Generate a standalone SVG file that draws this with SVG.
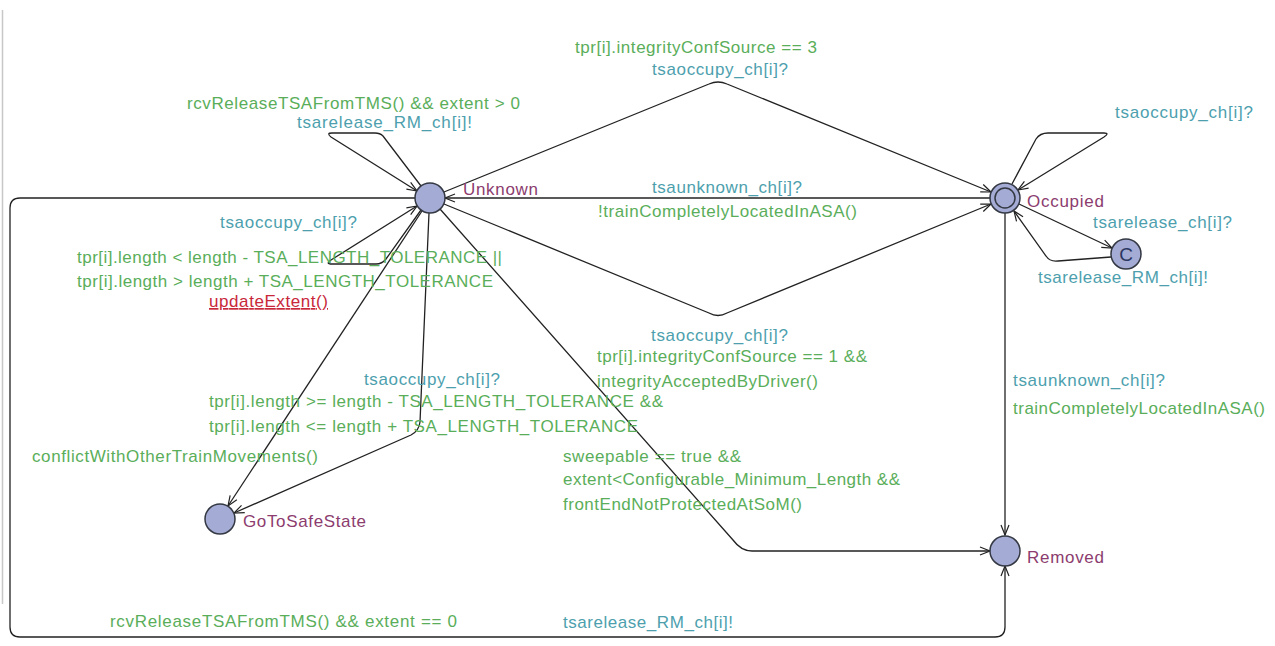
<svg xmlns="http://www.w3.org/2000/svg" width="1275" height="646" viewBox="0 0 1275 646">
<style>
text{font-family:"Liberation Sans",Arial,sans-serif;font-size:17px}
.g{fill:#5aae5a}
.t{fill:#4d9fae}
.p{fill:#8c3c6e}
.r{fill:#c8283a;text-decoration:underline}
.e{fill:none;stroke:#222;stroke-width:1.3}
.n{fill:#a4abd4;stroke:#333842;stroke-width:1.5}
</style>
<defs>
<marker id="arr" viewBox="0 0 12 10" refX="11" refY="5" markerWidth="12" markerHeight="10" markerUnits="userSpaceOnUse" orient="auto">
<path d="M1,1 L11,5 L1,9" fill="none" stroke="#222" stroke-width="1.2"/>
</marker>
</defs>
<rect width="1275" height="646" fill="#fff"/>
<line x1="2.5" y1="10" x2="2.5" y2="604" stroke="#c8c8c8" stroke-width="1.5"/>
<g id="connectors">
<path class="e" d="M421,186 L383,136 Q380,133 375,133 L332,133 Q326,133 331,137 L417,191" marker-end="url(#arr)"/>
<path class="e" d="M444,192 L709,84 Q718,80 727,84 L991,192" marker-end="url(#arr)"/>
<path class="e" d="M990,198 L445,198" marker-end="url(#arr)"/>
<path class="e" d="M444,204 L709,313 Q718,318 727,313 L991,204" marker-end="url(#arr)"/>
<path class="e" d="M1012,184 L1036,139 Q1040,133 1048,133 L1104,133 Q1110,133 1104,137 L1018,190" marker-end="url(#arr)"/>
<path class="e" d="M1019,204 L1112,248" marker-end="url(#arr)"/>
<path class="e" d="M1111,257 L1058,261 Q1050,262 1046,256 L1014,211" marker-end="url(#arr)"/>
<path class="e" d="M1005,213 L1005,535" marker-end="url(#arr)"/>
<path class="e" d="M440,209 L733,540 Q741,551 752,551 L990,551" marker-end="url(#arr)"/>
<path class="e" d="M422,211 L228,506" marker-end="url(#arr)"/>
<path class="e" d="M429,213 L420,422 Q419,431 411,435 L234,513" marker-end="url(#arr)"/>
<path class="e" d="M421,210 L386,259 Q382,264 376,264 L332,264 Q325,264 331,260 L417,206" marker-end="url(#arr)"/>
<path class="e" d="M415,198 L20,198 Q10,198 10,208 L10,627 Q10,637 20,637 L995,637 Q1005,637 1005,627 L1005,566" marker-end="url(#arr)"/>
</g>
<g id="labels">
<text class="g" x="187" y="109" textLength="333" lengthAdjust="spacing">rcvReleaseTSAFromTMS() &amp;&amp; extent &gt; 0</text>
<text class="t" x="297" y="128" textLength="175" lengthAdjust="spacing">tsarelease_RM_ch[i]!</text>
<text class="g" x="575" y="53" textLength="242" lengthAdjust="spacing">tpr[i].integrityConfSource == 3</text>
<text class="t" x="652" y="75" textLength="136" lengthAdjust="spacing">tsaoccupy_ch[i]?</text>
<text class="t" x="652" y="193" textLength="150" lengthAdjust="spacing">tsaunknown_ch[i]?</text>
<text class="g" x="598" y="217" textLength="259" lengthAdjust="spacing">!trainCompletelyLocatedInASA()</text>
<text class="t" x="1115" y="118" textLength="138" lengthAdjust="spacing">tsaoccupy_ch[i]?</text>
<text class="t" x="1093" y="228" textLength="139" lengthAdjust="spacing">tsarelease_ch[i]?</text>
<text class="t" x="1038" y="283" textLength="170" lengthAdjust="spacing">tsarelease_RM_ch[i]!</text>
<text class="t" x="220" y="228" textLength="137" lengthAdjust="spacing">tsaoccupy_ch[i]?</text>
<text class="g" x="77" y="263" textLength="425" lengthAdjust="spacing">tpr[i].length &lt; length - TSA_LENGTH_TOLERANCE ||</text>
<text class="g" x="77" y="287" textLength="416" lengthAdjust="spacing">tpr[i].length &gt; length + TSA_LENGTH_TOLERANCE</text>
<text class="r" x="209" y="307" textLength="119" lengthAdjust="spacing">updateExtent()</text>
<text class="t" x="651" y="341" textLength="137" lengthAdjust="spacing">tsaoccupy_ch[i]?</text>
<text class="g" x="597" y="362" textLength="270" lengthAdjust="spacing">tpr[i].integrityConfSource == 1 &amp;&amp;</text>
<text class="g" x="597" y="387" textLength="221" lengthAdjust="spacing">integrityAcceptedByDriver()</text>
<text class="t" x="364" y="385" textLength="136" lengthAdjust="spacing">tsaoccupy_ch[i]?</text>
<text class="g" x="209" y="407" textLength="454" lengthAdjust="spacing">tpr[i].length &gt;= length - TSA_LENGTH_TOLERANCE &amp;&amp;</text>
<text class="g" x="209" y="432" textLength="429" lengthAdjust="spacing">tpr[i].length &lt;= length + TSA_LENGTH_TOLERANCE</text>
<text class="g" x="32" y="462" textLength="286" lengthAdjust="spacing">conflictWithOtherTrainMovements()</text>
<text class="g" x="563" y="462" textLength="178" lengthAdjust="spacing">sweepable == true &amp;&amp;</text>
<text class="g" x="563" y="485" textLength="337" lengthAdjust="spacing">extent&lt;Configurable_Minimum_Length &amp;&amp;</text>
<text class="g" x="563" y="510" textLength="239" lengthAdjust="spacing">frontEndNotProtectedAtSoM()</text>
<text class="t" x="1013" y="386" textLength="152" lengthAdjust="spacing">tsaunknown_ch[i]?</text>
<text class="g" x="1013" y="414" textLength="252" lengthAdjust="spacing">trainCompletelyLocatedInASA()</text>
<text class="g" x="110" y="627" textLength="347" lengthAdjust="spacing">rcvReleaseTSAFromTMS() &amp;&amp; extent == 0</text>
<text class="t" x="563" y="628" textLength="170" lengthAdjust="spacing">tsarelease_RM_ch[i]!</text>
</g>
<g id="node-unknown">
<circle class="n" cx="430" cy="198" r="15"/>
<text class="p" x="463" y="195" textLength="75" lengthAdjust="spacing">Unknown</text>
</g>
<g id="node-occupied">
<circle class="n" cx="1005" cy="198" r="15"/>
<circle class="n" cx="1005" cy="198" r="10"/>
<text class="p" x="1027" y="207" textLength="77" lengthAdjust="spacing">Occupied</text>
</g>
<g id="node-c">
<circle class="n" cx="1126" cy="254" r="15"/>
<text x="1126" y="261" text-anchor="middle" fill="#2b3760" style="font-size:19px">C</text>
</g>
<g id="node-gotosafestate">
<circle class="n" cx="220" cy="519" r="15"/>
<text class="p" x="243" y="527" textLength="123" lengthAdjust="spacing">GoToSafeState</text>
</g>
<g id="node-removed">
<circle class="n" cx="1005" cy="551" r="15"/>
<text class="p" x="1027" y="563" textLength="77" lengthAdjust="spacing">Removed</text>
</g>
</svg>
